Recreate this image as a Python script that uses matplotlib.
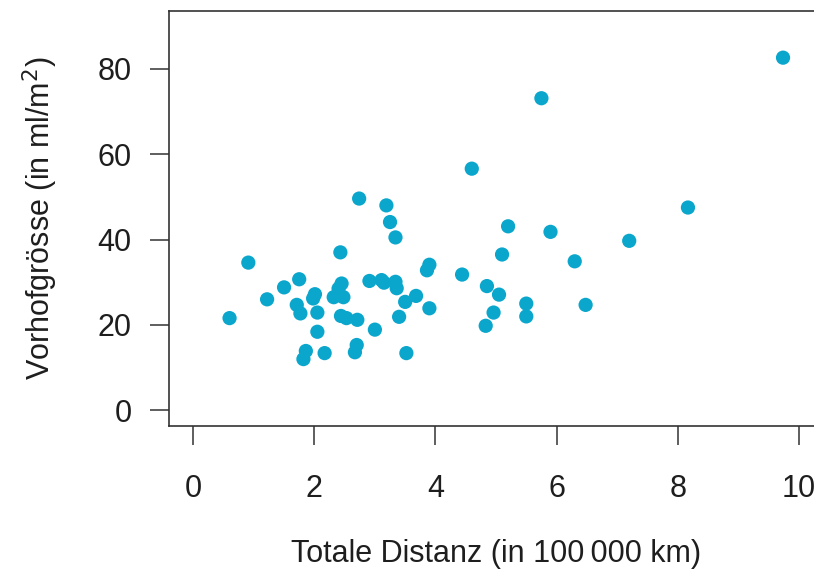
import matplotlib
matplotlib.use("Agg")
import matplotlib.pyplot as plt

plt.rcParams['font.family'] = ['Liberation Sans', 'DejaVu Sans']

distanz = [0.60, 0.91, 1.22, 1.50, 1.75, 1.71, 1.77, 2.01, 1.98, 2.05,
           2.05, 1.86, 1.82, 2.17, 2.43, 2.45, 2.40, 2.32, 2.48, 2.44,
           2.53, 2.71, 3.00, 2.70, 2.67, 2.74, 3.19, 3.25, 3.34, 2.91,
           3.11, 3.15, 3.34, 3.36, 3.68, 3.50, 3.40, 3.90, 3.52, 3.90,
           3.86, 4.44, 4.60, 4.85, 5.05, 4.96, 4.83, 5.10, 5.20, 5.50,
           5.50, 5.75, 5.90, 6.30, 6.48, 7.20, 8.17, 9.74]
vorhof = [21.6, 34.6, 26.0, 28.8, 30.7, 24.7, 22.7, 27.2, 26.2, 22.9,
          18.4, 13.9, 12.0, 13.4, 37.0, 29.7, 28.5, 26.5, 26.5, 22.1,
          21.6, 21.2, 18.9, 15.3, 13.6, 49.6, 48.0, 44.1, 40.5, 30.3,
          30.5, 29.9, 30.1, 28.6, 26.8, 25.4, 21.9, 23.9, 13.4, 34.1,
          32.8, 31.8, 56.6, 29.1, 27.1, 22.9, 19.8, 36.5, 43.1, 25.0,
          22.0, 73.1, 41.8, 34.9, 24.7, 39.7, 47.5, 82.6]

xticks = [0, 2, 4, 6, 8, 10]
yticks = [0, 20, 40, 60, 80]

fig = plt.figure(figsize=(8.14, 5.71), dpi=100)
W, H = 814, 571
left, right, top, bottom = 169, 823, 10.7, 425.7
ax = fig.add_axes([left / W, 1 - bottom / H, (right - left) / W, (bottom - top) / H])

ax.scatter(distanz, vorhof, s=105, color='#0aa6cc', edgecolors='none', zorder=3)

ax.set_xlim(-0.4, 10.4)
ax.set_ylim(-3.6, 93.6)
ax.set_xticks(xticks)
ax.set_yticks(yticks)
ax.set_xticklabels([str(t) for t in xticks])
ax.set_yticklabels([str(t) for t in yticks])

for sp in ax.spines.values():
    sp.set_linewidth(1.2)
    sp.set_color('#333333')

ax.tick_params(axis='both', direction='out', length=14, width=1.1, color='#333333',
               labelsize=22, labelcolor='#1e1e1e')
ax.tick_params(axis='x', pad=21)
ax.tick_params(axis='y', pad=13)

ax.set_xlabel('Totale Distanz (in 100\u2009000 km)', fontsize=22, color='#1e1e1e', labelpad=25)
ax.set_ylabel('Vorhofgrösse (in ml/m$^2$)', fontsize=22, color='#1e1e1e', labelpad=27)

fig.savefig('out.png', dpi=100)
